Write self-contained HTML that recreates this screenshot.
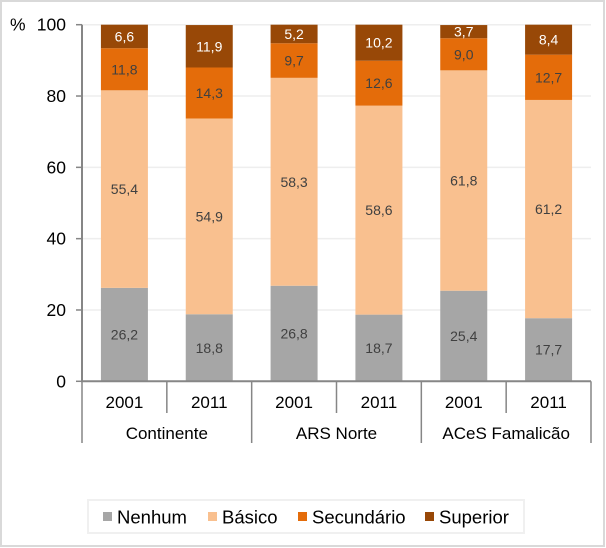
<!DOCTYPE html>
<html><head><meta charset="utf-8"><style>
html,body{margin:0;padding:0;background:#fff}
svg{display:block;font-family:"Liberation Sans",Arial,sans-serif}
</style></head><body>
<svg id="chart" width="606" height="548">
<rect x="1" y="1" width="603" height="545" fill="#fff" stroke="#d9d9d9" stroke-width="2"/>
<g id="grid"></g><g id="bars"></g><g id="axes"></g>
<g>
<rect x="88" y="500" width="436" height="33" fill="#fff" stroke="#f0f0f0" stroke-width="2"/>
<g id="legend"></g>
</g>
</svg>
<script>
const years = ["2001","2011","2001","2011","2001","2011"];
const groups = ["Continente","ARS Norte","ACeS Famalicão"];
const seriesNames = ["Nenhum","Básico","Secundário","Superior"];
const nenhum = [26.2,18.8,26.8,18.7,25.4,17.7];
const basico = [55.4,54.9,58.3,58.6,61.8,61.2];
const secundario = [11.8,14.3,9.7,12.6,9.0,12.7];
const superior = [6.6,11.9,5.2,10.2,3.7,8.4];
const yTicks = [0,20,40,60,80,100];

const colors = ["#a6a6a6","#f9c08f","#e46c0a","#984807"];
const textColors = ["#404040","#404040","#404040","#ffffff"];
const NS = "http://www.w3.org/2000/svg";
const x0 = 82, x1 = 591, yTop = 24.7, yBot = 381.3;
const slot = (x1 - x0) / years.length, bw = 47;
const y = v => yBot - (v / 100) * (yBot - yTop);
const cx = i => x0 + slot * (i + 0.5);
function mk(tag, attrs, parent) {
  const e = document.createElementNS(NS, tag);
  for (const k in attrs) e.setAttribute(k, attrs[k]);
  parent.appendChild(e); return e;
}
const grid = document.getElementById("grid"), bars = document.getElementById("bars"), axes = document.getElementById("axes"), legend = document.getElementById("legend");
yTicks.forEach(t => {
  if (t > 0) {
    const g = mk("line", {x1: x0, x2: x1, y1: y(t), y2: y(t), stroke: "#eeeeee", "stroke-width": 1.5}, grid);
    
    
  }
  const tk = mk("line", {x1: x0 - 6, x2: x0, y1: y(t), y2: y(t), stroke: "#868686", "stroke-width": 1.5}, axes);
  
  
  const lb = mk("text", {x: 66, y: y(t) + 6, "text-anchor": "end", "font-size": 17.5, fill: "#000"}, axes);
  lb.textContent = t;
  
  
});
const pct = mk("text", {x: 10, y: y(100) + 6, "font-size": 17.5, fill: "#000"}, axes);
pct.textContent = "%";



const series = [nenhum, basico, secundario, superior];
years.forEach((yr, i) => {
  let cum = 0;
  series.forEach((s, k) => {
    const v = s[i], top = Math.min(cum + v, 100);
    const r = mk("rect", {x: cx(i) - bw / 2, y: y(top), width: bw, height: y(cum) - y(top), fill: colors[k]}, bars);
    
    
    const t = mk("text", {x: cx(i), y: (y(cum) + y(top)) / 2 + 5, "text-anchor": "middle", "font-size": 14, fill: textColors[k]}, bars);
    t.textContent = v.toFixed(1).replace(".", ",");
    
    
    cum = top;
  });
  const yl = mk("text", {x: cx(i), y: 408, "text-anchor": "middle", "font-size": 17, fill: "#000"}, axes);
  yl.textContent = yr;
  
  
});
const ax = mk("path", {d: `M${x0} ${yTop}V${yBot}H${x1}`, fill: "none", stroke: "#868686", "stroke-width": 2}, axes);


for (let i = 0; i <= years.length; i++) {
  const xx = x0 + slot * i, long = i % 2 === 0;
  const l = mk("line", {x1: xx, x2: xx, y1: yBot, y2: long ? 443 : 413, stroke: "#868686", "stroke-width": 1.5}, axes);
  
  
}
groups.forEach((g, j) => {
  const t = mk("text", {x: x0 + slot * (2 * j + 1), y: 439, "text-anchor": "middle", "font-size": 17, fill: "#000"}, axes);
  t.textContent = g;
  
  
});
const lx = [103, 208, 298, 425];
seriesNames.forEach((n, k) => {
  const m = mk("rect", {x: lx[k], y: 512, width: 9, height: 9, fill: colors[k]}, legend);
  
  
  const t = mk("text", {x: lx[k] + 14, y: 523.5, "font-size": 18.5, fill: "#000"}, legend);
  t.textContent = n;
  
  
});
</script>
</body></html>
